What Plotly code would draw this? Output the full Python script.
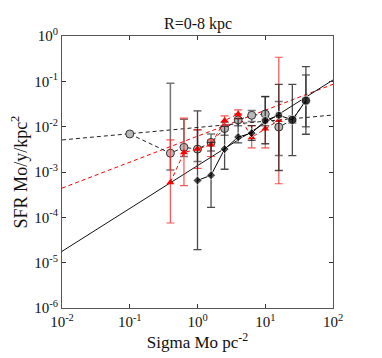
import numpy as np
import plotly.graph_objects as go

# --------------------------------------------------
# DATA
# --------------------------------------------------

gray_x = [0.1, 0.398, 0.631, 1.0, 1.585, 2.512, 3.981, 6.31, 10.0, 15.85, 25.12, 39.81]
gray_y = [0.0069, 0.0026, 0.0035, 0.0032, 0.0045, 0.0091, 0.0141, 0.0178, 0.019, 0.0098, 0.0141, 0.0376]
gray_hi = [0.0069, 0.091, 0.0146, 0.0085, 0.0069, 0.0125, 0.0191, 0.0226, 0.046, 0.0357, 0.017, 0.138]
gray_lo = [0.0069, 0.0011, 0.0022, 0.0017, 0.0029, 0.0065, 0.0105, 0.013, 0.0105, 0.0023, 0.012, 0.01]

red_x = [0.398, 0.631, 1.0, 1.585, 2.512, 3.981, 6.31, 10.0, 15.85]
red_y = [0.00059, 0.0027, 0.0032, 0.0040, 0.0136, 0.0191, 0.0058, 0.009, 0.0138]
red_hi = [0.0051, 0.0155, 0.0085, 0.0051, 0.0173, 0.0234, 0.0105, 0.0141, 0.34]
red_lo = [0.000075, 0.0005, 0.0012, 0.0022, 0.0105, 0.015, 0.0034, 0.0034, 0.00055]

black_x = [1.0, 1.585, 2.512, 3.981, 6.31, 10.0, 15.85, 25.12, 39.81]
black_y = [0.00065, 0.00085, 0.0032, 0.0059, 0.0072, 0.0136, 0.0179, 0.0141, 0.0376]
black_hi = [0.0223, 0.0045, 0.0101, 0.015, 0.0105, 0.046, 0.086, 0.086, 0.211]
black_lo = [0.0000193, 0.000166, 0.00115, 0.0044, 0.005, 0.0042, 0.00108, 0.0023, 0.0068]

# power-law fits: SFR = A * Sigma^n
fit_gray = (0.0096, 0.1375)
fit_red = (0.00616, 0.573)
fit_black = (0.00138, 0.945)
fit_range = [0.01, 100]

x_exps = [-2, -1, 0, 1, 2]
y_exps = [-6, -5, -4, -3, -2, -1, 0]

SERIF = "Liberation Serif, Times New Roman, DejaVu Serif, serif"

# --------------------------------------------------
# FIGURE
# --------------------------------------------------

def errs(y, hi, lo):
    y = np.array(y)
    return dict(
        type="data",
        symmetric=False,
        array=np.array(hi) - y,
        arrayminus=y - np.array(lo),
    )

def fit_line(params, dash, color):
    a, n = params
    xs = np.array(fit_range)
    return go.Scatter(
        x=xs,
        y=a * xs ** n,
        mode="lines",
        line=dict(color=color, width=1, dash=dash),
        hoverinfo="skip",
    )

def pow_labels(exps):
    return [10.0 ** e for e in exps], [f"10<sup>{e}</sup>" for e in exps]

fig = go.Figure()

fig.add_trace(fit_line(fit_gray, "4px,3px", "#222"))
fig.add_trace(fit_line(fit_red, "4px,3px", "red"))
fig.add_trace(fit_line(fit_black, "solid", "#111"))

ge = errs(gray_y, gray_hi, gray_lo)
ge.update(color="rgba(70,70,70,0.75)", thickness=1.5, width=4)
fig.add_trace(
    go.Scatter(
        x=gray_x,
        y=gray_y,
        mode="lines+markers",
        line=dict(color="#222", width=1, dash="4px,3px"),
        marker=dict(symbol="circle", size=8, color="#b8b8b8",
                    line=dict(color="#333", width=1)),
        error_y=ge,
    )
)

re = errs(red_y, red_hi, red_lo)
re.update(color="rgba(255,40,40,0.8)", thickness=1.2, width=4)
fig.add_trace(
    go.Scatter(
        x=red_x,
        y=red_y,
        mode="lines+markers",
        line=dict(color="red", width=1, dash="4px,3px"),
        marker=dict(symbol="triangle-up", size=7, color="red"),
        error_y=re,
    )
)

black_symbols = ["diamond"] * 5 + ["circle"] * 4
black_sizes = [7, 7, 7, 7, 7, 8, 8, 9, 9]

be = errs(black_y, black_hi, black_lo)
be.update(color="rgba(30,30,30,0.8)", thickness=1.3, width=4)
fig.add_trace(
    go.Scatter(
        x=black_x,
        y=black_y,
        mode="lines+markers",
        line=dict(color="black", width=1),
        marker=dict(symbol=black_symbols, size=black_sizes, color="black"),
        error_y=be,
    )
)

axis_style = dict(
    type="log",
    showgrid=False,
    zeroline=False,
    showline=True,
    linecolor="#555",
    linewidth=1,
    mirror="ticks",
    ticks="inside",
    ticklen=4,
    tickcolor="#333",
    tickfont=dict(family=SERIF, size=15, color="#111"),
)

xv, xt = pow_labels(x_exps)
yv, yt = pow_labels(y_exps)

fig.update_xaxes(
    axis_style,
    range=[-2, 2],
    tickvals=xv,
    ticktext=xt,
    title=dict(text="Sigma Mo pc<sup>-2</sup>",
               font=dict(family=SERIF, size=17, color="#111"),
               standoff=0),
)

fig.update_yaxes(
    axis_style,
    range=[-6, 0],
    tickvals=yv,
    ticktext=yt,
    title=dict(text="SFR Mo/y/kpc<sup>2</sup>",
               font=dict(family=SERIF, size=18, color="#111"),
               standoff=2),
)

# title as an annotation so it sits at a fixed offset above the axes
fig.add_annotation(
    text="R=0-8 kpc",
    xref="paper", yref="paper",
    x=0.5, y=1,
    xanchor="center", yanchor="middle",
    yshift=12,
    showarrow=False,
    font=dict(family=SERIF, size=16, color="#111"),
)

fig.update_layout(
    width=382,
    height=358,
    margin=dict(l=52, r=57, t=28, b=58),
    paper_bgcolor="white",
    plot_bgcolor="white",
    showlegend=False,
)

fig.write_html("out.html")
